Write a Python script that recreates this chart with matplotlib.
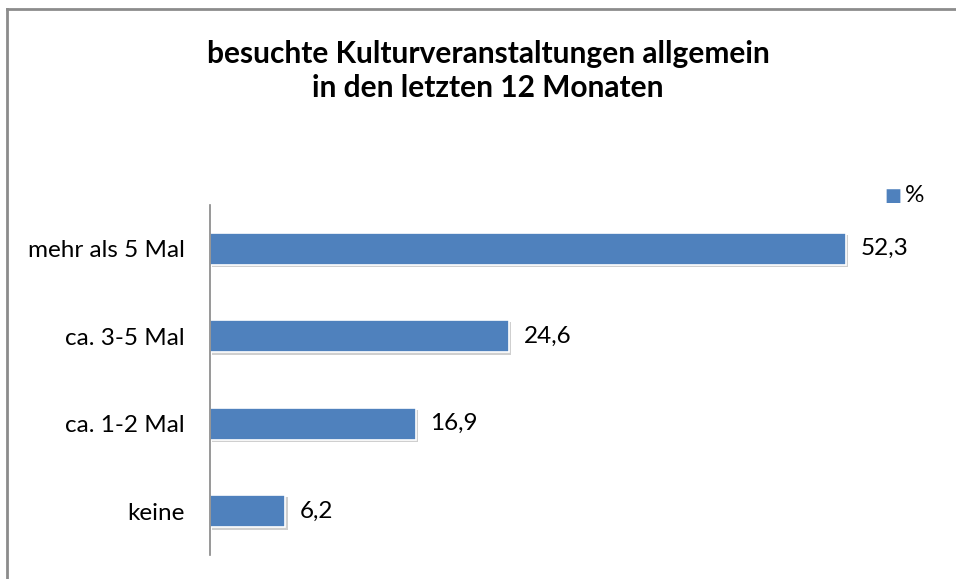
import matplotlib.pyplot as plt
import matplotlib.patheffects as pe
from matplotlib.lines import Line2D

# Data
categories = ["keine", "ca. 1-2 Mal", "ca. 3-5 Mal", "mehr als 5 Mal"]
values = [6.2, 16.9, 24.6, 52.3]
labels = ["6,2", "16,9", "24,6", "52,3"]

plt.rcParams['font.family'] = ['Lato', 'DejaVu Sans']

fig = plt.figure(figsize=(9.56, 5.79), dpi=100)
ax = fig.add_axes([210 / 956, 1 - 555 / 579, 730 / 956, 350 / 579])

bars = ax.barh(categories, values, height=0.37, color="#4F81BD",
               edgecolor="white", linewidth=1.2)
for b in bars:
    b.set_path_effects([pe.SimplePatchShadow(offset=(1.5, -1.5), shadow_rgbFace="#b0b0b0", alpha=0.6),
                        pe.Normal()])

for b, lab in zip(bars, labels):
    ax.text(b.get_width() + 1.2, b.get_y() + b.get_height() / 2, lab,
            va="center", ha="left", fontsize=17.5)

ax.set_xlim(0, 60)
ax.set_ylim(-0.5, 3.5)
ax.set_xticks([])
ax.tick_params(axis="y", length=0, labelsize=17.5, pad=18)
for s in ["top", "right", "bottom"]:
    ax.spines[s].set_visible(False)
ax.spines["left"].set_color("#868686")
ax.spines["left"].set_linewidth(1.2)

# Title
fig.text(488 / 956, 1 - 71 / 579, "besuchte Kulturveranstaltungen allgemein\nin den letzten 12 Monaten",
         ha="center", va="center", fontsize=21.5, fontweight="bold", linespacing=1.3)

# Legend
fig.text(893 / 956, 1 - 196 / 579, "■", ha="center", va="center", fontsize=13, color="#4F81BD",
         family="DejaVu Sans")
fig.text(905 / 956, 1 - 196 / 579, "%", ha="left", va="center", fontsize=17.5)

# Outer border (top and left)
fig.add_artist(Line2D([6.5 / 956, 1], [1 - 8.5 / 579, 1 - 8.5 / 579], color="#8c8c8c", lw=2,
                      transform=fig.transFigure))
fig.add_artist(Line2D([6.5 / 956, 6.5 / 956], [0, 1 - 8.5 / 579], color="#8c8c8c", lw=2,
                      transform=fig.transFigure))

fig.savefig("out.png", dpi=100)
